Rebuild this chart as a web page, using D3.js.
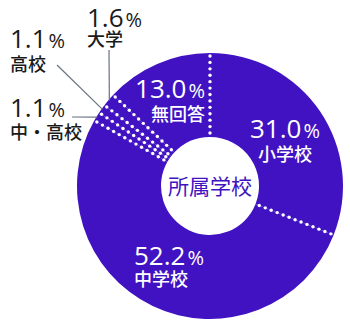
<!DOCTYPE html>
<html><head><meta charset="utf-8">
<script src="https://cdn.jsdelivr.net/npm/d3@7"></script>
<style>html,body{margin:0;padding:0;background:#fff;}svg{display:block;}</style>
</head><body>
<svg id="c" width="350" height="328"></svg>
<script>
const categories = ["小学校", "中学校", "中・高校", "高校", "大学", "無回答"];
const values = [31.0, 52.2, 1.1, 1.1, 1.6, 13.0];
const valueLabels = ["31.0", "52.2", "1.1", "1.1", "1.6", "13.0"];
const centerTitle = "所属学校";

// layout (label placement)
const cx = 210, cy = 186, outerR = 133, innerR = 49;
const color = "#4012c2";
const numFont = "'Open Sans','DejaVu Sans',sans-serif";
const jpFont = "'Noto Sans CJK JP',sans-serif";
const labelLayout = [
  {inside:true, x:285, y:138, anchor:"middle", dy:23},
  {inside:true, x:134, y:265, anchor:"start", dy:21},
  {inside:false, x:10, y:117, anchor:"start", dy:22, lx:72, ly:117},
  {inside:false, x:10, y:48, anchor:"start", dy:23, lx:57, ly:65},
  {inside:false, x:87, y:27, anchor:"start", dy:19, lx:109, ly:50},
  {inside:true, x:205, y:98, anchor:"end", dy:23}
];

const svg = d3.select("#c");
const g = svg.append("g").attr("transform", `translate(${cx},${cy})`);
const pie = d3.pie().sort(null).value(d => d)(values);
const arc = d3.arc().innerRadius(innerR).outerRadius(outerR);

g.selectAll("path.slice").data(pie).join("path")
  .attr("class","slice").attr("d", arc).attr("fill", color);

// dotted separators
const rScale = d3.scaleLinear().domain([0,1]).range([innerR+4, outerR-3]);
const nDots = 13;
const boundaries = pie.map(p => p.startAngle);
boundaries.forEach(a => {
  d3.range(nDots).forEach(i => {
    const r = rScale(i/(nDots-1));
    g.append("circle")
      .attr("cx", r*Math.sin(a)).attr("cy", -r*Math.cos(a))
      .attr("r", 1.7).attr("fill", "#fff");
  });
});

// center title
g.append("text").attr("text-anchor","middle").attr("y", 8)
  .attr("font-family", jpFont).attr("font-size", 21).attr("fill", color)
  .text(centerTitle);

// labels
pie.forEach((p, i) => {
  const L = labelLayout[i];
  const fill = L.inside ? "#fff" : "#1a1a1a";
  const t = svg.append("text").attr("x", L.x).attr("y", L.y)
    .attr("text-anchor", L.anchor).attr("fill", fill).attr("font-family", numFont);
  t.append("tspan").attr("font-size", 26).text(valueLabels[i]);
  t.append("tspan").attr("font-size", 20).attr("dx", 2).text("%");
  svg.append("text").attr("x", L.x).attr("y", L.y + L.dy)
    .attr("text-anchor", L.anchor).attr("fill", fill)
    .attr("font-family", jpFont).attr("font-weight", 500).attr("font-size", 18)
    .text(categories[i]);
  if (!L.inside) {
    const mid = (p.startAngle + p.endAngle)/2;
    svg.append("line")
      .attr("x1", L.lx).attr("y1", L.ly)
      .attr("x2", cx + (outerR-1)*Math.sin(mid)).attr("y2", cy - (outerR-1)*Math.cos(mid))
      .attr("stroke", "#6a7380").attr("stroke-width", 1.2);
  }
});
</script>
</body></html>
